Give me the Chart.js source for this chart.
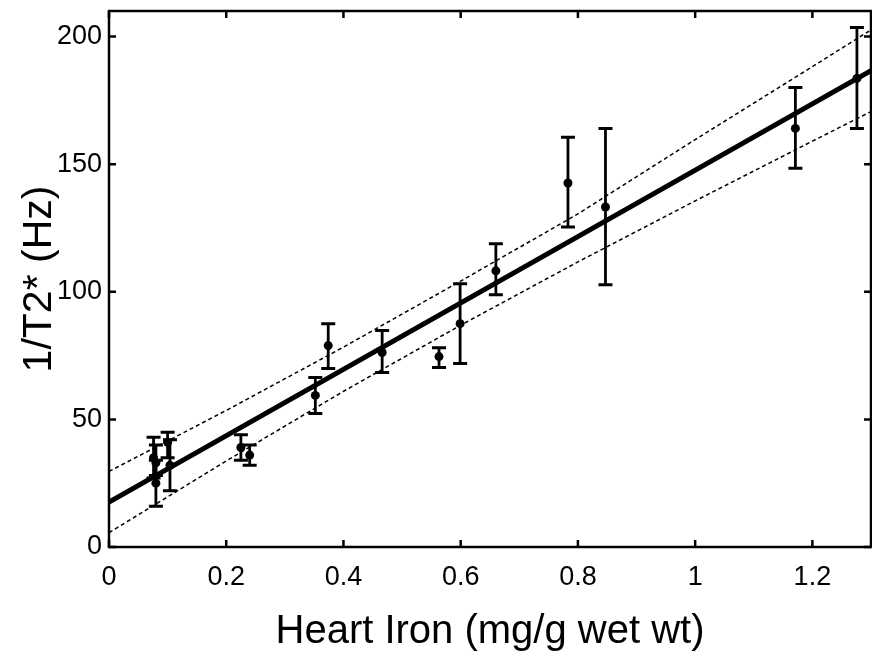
<!DOCTYPE html>
<html>
<head>
<meta charset="utf-8">
<script src="https://cdn.jsdelivr.net/npm/chart.js@4"></script>
<style>
html,body{margin:0;padding:0;background:#fff;overflow:hidden;}
canvas{display:block;}
</style>
</head>
<body>
<canvas id="c" width="872" height="658"></canvas>
<script>
// ---- data ----
const ironX   = [0.076, 0.080, 0.080, 0.100, 0.104, 0.225, 0.240, 0.352, 0.374, 0.466, 0.563, 0.599, 0.660, 0.783, 0.847, 1.171, 1.276];
const rateY   = [35,    33,    25,    41,    32,    39,    36,    59.4,  78.9,  76.2,  74.6,  87.5,  108.2, 142.6, 133.2, 164,   183.6];
const rateLo  = [27,    28,    16,    35,    22,    34,    32,    52.3,  69.9,  68.4,  70.3,  71.9,  98.8,  125.4, 102.7, 148.4, 164];
const rateHi  = [43,    40,    34,    45,    42,    44,    40,    66.4,  87.5,  84.8,  78.1,  103.1, 118.8, 160.5, 164,   180,   203.5];

const fitX    = [0, 1.3];
const fitY    = [17.6, 186.6];

const bandX   = [0,    0.2,  0.4,  0.6,   0.8,   1.0,   1.2,   1.3];
const bandUp  = [29.6, 53.5, 78.3, 104.2, 130.5, 159.6, 188.2, 202.6];
const bandLow = [5.6,  33.7, 61.0, 86.9,  111.7, 135.6, 159.0, 170.6];

const xTicks  = [0, 0.2, 0.4, 0.6, 0.8, 1, 1.2];
const xTickLabels = ['0', '0.2', '0.4', '0.6', '0.8', '1', '1.2'];
const yTicks  = [0, 50, 100, 150, 200];
const yTickLabels = ['0', '50', '100', '150', '200'];

const xTitle = 'Heart Iron (mg/g wet wt)';
const yTitle = '1/T2* (Hz)';

// ---- build datasets ----
const pts = ironX.map((x, i) => ({x: x, y: rateY[i]}));
const fit = fitX.map((x, i) => ({x: x, y: fitY[i]}));
const up  = bandX.map((x, i) => ({x: x, y: bandUp[i]}));
const low = bandX.map((x, i) => ({x: x, y: bandLow[i]}));

const FONT = '"Liberation Sans", Arial, Helvetica, sans-serif';

const errorBars = {
  id: 'errorBars',
  afterDatasetsDraw(chart) {
    const ctx = chart.ctx, xs = chart.scales.x, ys = chart.scales.y;
    ctx.save();
    ctx.strokeStyle = '#000';
    ironX.forEach((x, i) => {
      const px = xs.getPixelForValue(x);
      const pLo = ys.getPixelForValue(rateLo[i]);
      const pHi = ys.getPixelForValue(rateHi[i]);
      ctx.lineWidth = 2.8;
      ctx.beginPath();
      ctx.moveTo(px, pLo); ctx.lineTo(px, pHi);
      ctx.stroke();
      ctx.lineWidth = 3;
      ctx.beginPath();
      ctx.moveTo(px - 7, pLo); ctx.lineTo(px + 7, pLo);
      ctx.moveTo(px - 7, pHi); ctx.lineTo(px + 7, pHi);
      ctx.stroke();
    });
    ctx.restore();
  }
};

const frame = {
  id: 'frame',
  afterDraw(chart) {
    const ctx = chart.ctx, a = chart.chartArea, xs = chart.scales.x, ys = chart.scales.y;
    ctx.save();
    ctx.strokeStyle = '#000';
    ctx.lineWidth = 2.5;
    ctx.strokeRect(a.left, a.top, a.right - a.left, a.bottom - a.top);
    ctx.beginPath();
    const tl = 7;
    xTicks.forEach(v => {
      const px = xs.getPixelForValue(v);
      ctx.moveTo(px, a.bottom); ctx.lineTo(px, a.bottom - tl);
      ctx.moveTo(px, a.top); ctx.lineTo(px, a.top + tl);
    });
    yTicks.forEach(v => {
      const py = ys.getPixelForValue(v);
      ctx.moveTo(a.left, py); ctx.lineTo(a.left + tl, py);
      ctx.moveTo(a.right, py); ctx.lineTo(a.right - tl, py);
    });
    ctx.stroke();
    ctx.restore();
  }
};

new Chart(document.getElementById('c'), {
  type: 'scatter',
  data: {
    datasets: [
      { data: up, showLine: true, borderColor: '#000', borderWidth: 1.5, borderDash: [4, 3], pointRadius: 0, fill: false },
      { data: low, showLine: true, borderColor: '#000', borderWidth: 1.5, borderDash: [4, 3], pointRadius: 0, fill: false },
      { data: fit, showLine: true, borderColor: '#000', borderWidth: 5, pointRadius: 0, fill: false },
      { data: pts, showLine: false, backgroundColor: '#000', borderColor: '#000', pointRadius: 4.5, borderWidth: 0 }
    ]
  },
  options: {
    responsive: false,
    animation: false,
    events: [],
    layout: { autoPadding: false, padding: { left: 0, right: 1, top: 11, bottom: 0 } },
    plugins: { legend: { display: false }, tooltip: { enabled: false } },
    scales: {
      x: {
        type: 'linear', min: 0, max: 1.3,
        grid: { display: false, drawTicks: false },
        border: { display: false },
        afterBuildTicks: s => { s.ticks = xTicks.map(v => ({value: v})); },
        afterFit: s => { s.height = 111; s.paddingLeft = 0; s.paddingRight = 0; },
        ticks: {
          color: '#000', padding: 14,
          font: { family: FONT, size: 27 },
          callback: (v) => { const i = xTicks.indexOf(v); return i >= 0 ? xTickLabels[i] : ''; }
        },
        title: { display: true, text: xTitle, color: '#000', font: { family: FONT, size: 40 }, padding: { top: 0, bottom: 2 } }
      },
      y: {
        type: 'linear', min: 0, max: 210,
        grid: { display: false, drawTicks: false },
        border: { display: false },
        afterBuildTicks: s => { s.ticks = yTicks.map(v => ({value: v})); },
        afterFit: s => { s.width = 109; s.paddingTop = 0; s.paddingBottom = 0; },
        ticks: {
          color: '#000', padding: 7,
          font: { family: FONT, size: 27 },
          callback: (v) => { const i = yTicks.indexOf(v); return i >= 0 ? yTickLabels[i] : ''; }
        },
        title: { display: true, text: yTitle, color: '#000', font: { family: FONT, size: 41 }, padding: { top: 15, bottom: 0 } }
      }
    }
  },
  plugins: [errorBars, frame]
});
</script>
</body>
</html>
